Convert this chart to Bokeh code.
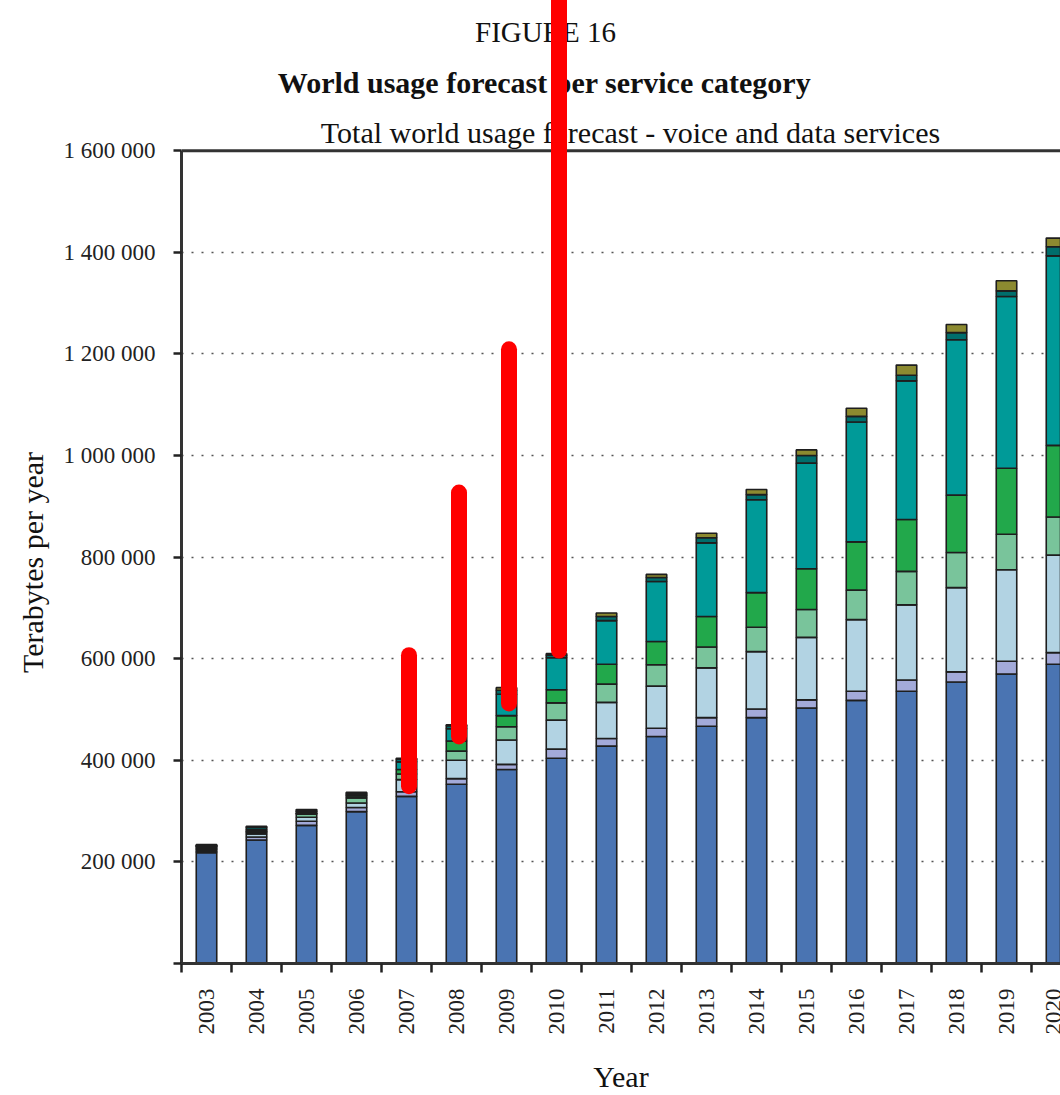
import math
from bokeh.plotting import figure
from bokeh.models import ColumnDataSource, FixedTicker, Range1d, Span, Label, Title
from bokeh.embed import file_html
from bokeh.resources import INLINE

# ---------------- data (thousands of terabytes per year) ----------------
years = list(range(2003, 2021))
series_names = ["cat1", "cat2", "cat3", "cat4", "cat5", "cat6", "cat7", "cat8"]
cat1 = [218, 243, 272, 299, 329, 353, 382, 404, 428, 447, 467, 484, 503, 518, 536, 554, 570, 589]
cat2 = [3, 6, 8, 8, 9, 11, 10, 18, 15, 16, 17, 17, 16, 18, 22, 20, 25, 23]
cat3 = [3, 6, 8, 9, 24, 36, 48, 57, 71, 83, 98, 113, 123, 141, 148, 166, 180, 192]
cat4 = [2, 3, 6, 10, 11, 18, 26, 34, 36, 42, 41, 48, 55, 58, 66, 69, 70, 75]
cat5 = [2, 2, 2, 4, 9, 20, 22, 26, 39, 46, 60, 68, 80, 95, 102, 113, 130, 141]
cat6 = [3, 3, 3, 2, 15, 24, 42, 63, 86, 118, 145, 183, 208, 236, 273, 306, 338, 373]
cat7 = [2, 5, 3, 3, 5, 6, 8, 5, 8, 8, 10, 10, 15, 11, 11, 14, 11, 18]
cat8 = [1, 2, 1, 2, 2, 2, 5, 3, 7, 6, 9, 10, 11, 16, 20, 16, 20, 17]
series_values = [cat1, cat2, cat3, cat4, cat5, cat6, cat7, cat8]
colors = ["#4a74b2", "#a3aad9", "#b2d3e3", "#79c49b", "#22a84b", "#009a98", "#006e6c", "#8c8a30"]

y_ticks = [0, 200000, 400000, 600000, 800000, 1000000, 1200000, 1400000, 1600000]

# red highlight strokes drawn over the figure (years, low, high)
highlight_years = [2007, 2008, 2009, 2010]
highlight_low = [349000, 447000, 512000, 616000]
highlight_high = [607000, 927000, 1209000, 1950000]

# ---------------- layout helpers ----------------
W, H = 1060, 1095
LEFT, BOTTOM_PX, TOP_LINE_PX = 181, 968, 151
PX_PER_YEAR = 50.0
x_start = 2002.5
x_end = x_start + (W - LEFT) / PX_PER_YEAR
units_per_px = 1600000 / (BOTTOM_PX - TOP_LINE_PX)
y_end = BOTTOM_PX * units_per_px


def px_x(px):
    return x_start + (px - LEFT) / PX_PER_YEAR


def px_y(py):
    return (BOTTOM_PX - py) * units_per_px


data = {"year": years}
for name, vals in zip(series_names, series_values):
    data[name] = [v * 1000 for v in vals]
source = ColumnDataSource(data)

p = figure(width=W, height=H, output_backend="svg", toolbar_location=None,
           x_range=Range1d(x_start, x_end), y_range=Range1d(0, y_end))
p.min_border_left = LEFT
p.min_border_right = 0
p.min_border_top = 0
p.min_border_bottom = H - BOTTOM_PX
p.outline_line_color = None
p.background_fill_color = "white"
p.border_fill_color = "white"

p.vbar_stack(series_names, x="year", width=0.41, color=colors,
             line_color="#1e1e1e", line_width=1.6, source=source)

# grid
p.xgrid.visible = False
p.ygrid.ticker = FixedTicker(ticks=y_ticks[1:-1])
p.ygrid.grid_line_color = "#555555"
p.ygrid.grid_line_dash = "2 8"
p.ygrid.grid_line_width = 1.6

# top frame line
p.add_layout(Span(location=1600000, dimension="width", line_color="#333333", line_width=3))

# y axis
p.yaxis.ticker = FixedTicker(ticks=y_ticks)
p.yaxis.bounds = (0, 1600000)
p.yaxis.major_label_overrides = {t: ("" if t == 0 else f"{t:,}".replace(",", " ")) for t in y_ticks}
p.yaxis.minor_tick_line_color = None
p.yaxis.major_tick_out = 8
p.yaxis.major_tick_in = 0
p.yaxis.major_tick_line_width = 2.5
p.yaxis.major_tick_line_color = "#222222"
p.yaxis.axis_line_width = 3
p.yaxis.axis_line_color = "#333333"
p.yaxis.major_label_standoff = 18
p.yaxis.major_label_text_font = "Liberation Serif"
p.yaxis.major_label_text_font_size = "23px"
p.yaxis.major_label_text_color = "#222222"

# x axis
p.xaxis.ticker = FixedTicker(ticks=years, minor_ticks=[y - 0.5 for y in years] + [years[-1] + 0.5])
p.xaxis.major_tick_out = 0
p.xaxis.major_tick_in = 0
p.xaxis.minor_tick_out = 9
p.xaxis.minor_tick_in = 0
p.xaxis.minor_tick_line_width = 2.5
p.xaxis.minor_tick_line_color = "#222222"
p.xaxis.axis_line_width = 3
p.xaxis.axis_line_color = "#333333"
p.xaxis.major_label_orientation = math.pi / 2
p.xaxis.major_label_standoff = 16
p.xaxis.major_label_text_font = "Liberation Serif"
p.xaxis.major_label_text_font_size = "23px"
p.xaxis.major_label_text_color = "#222222"
p.xaxis.axis_label = "Year"
p.xaxis.axis_label_text_font = "Liberation Serif"
p.xaxis.axis_label_text_font_size = "30px"
p.xaxis.axis_label_text_font_style = "normal"
p.xaxis.axis_label_text_color = "#111111"
p.xaxis.axis_label_standoff = 22

# y axis title as a side title, centred on the axis line (0 .. 1 600 000)
ylabel_text = "Terabytes per year"
ylabel_len = 223  # approx. rendered length in px at 30px
ylabel_center_px = 561
p.add_layout(Title(text=ylabel_text, align="left",
                   offset=(BOTTOM_PX - ylabel_center_px) - ylabel_len / 2 - 5,
                   text_font="Liberation Serif", text_font_size="30px",
                   text_font_style="normal", text_color="#111111", standoff=24), "left")

# titles
titles = [
    ("FIGURE 16", 545, 32, "29px", "normal"),
    ("World usage forecast per service category", 544, 82, "30px", "bold"),
    ("Total world usage forecast - voice and data services", 630, 133, "30px", "normal"),
]
for text, cx, base, size, style in titles:
    p.add_layout(Label(x=px_x(cx), y=px_y(base), text=text, text_align="center",
                       text_baseline="alphabetic", text_font="Liberation Serif",
                       text_font_size=size, text_font_style=style, text_color="#111111"))

# red highlight strokes
p.segment(x0=[y + 0.05 for y in highlight_years], y0=highlight_low,
          x1=[y + 0.05 for y in highlight_years], y1=highlight_high,
          line_color="#ff0000", line_width=16, line_cap="round", level="overlay")

open("out.html", "w").write(file_html(p, INLINE))
